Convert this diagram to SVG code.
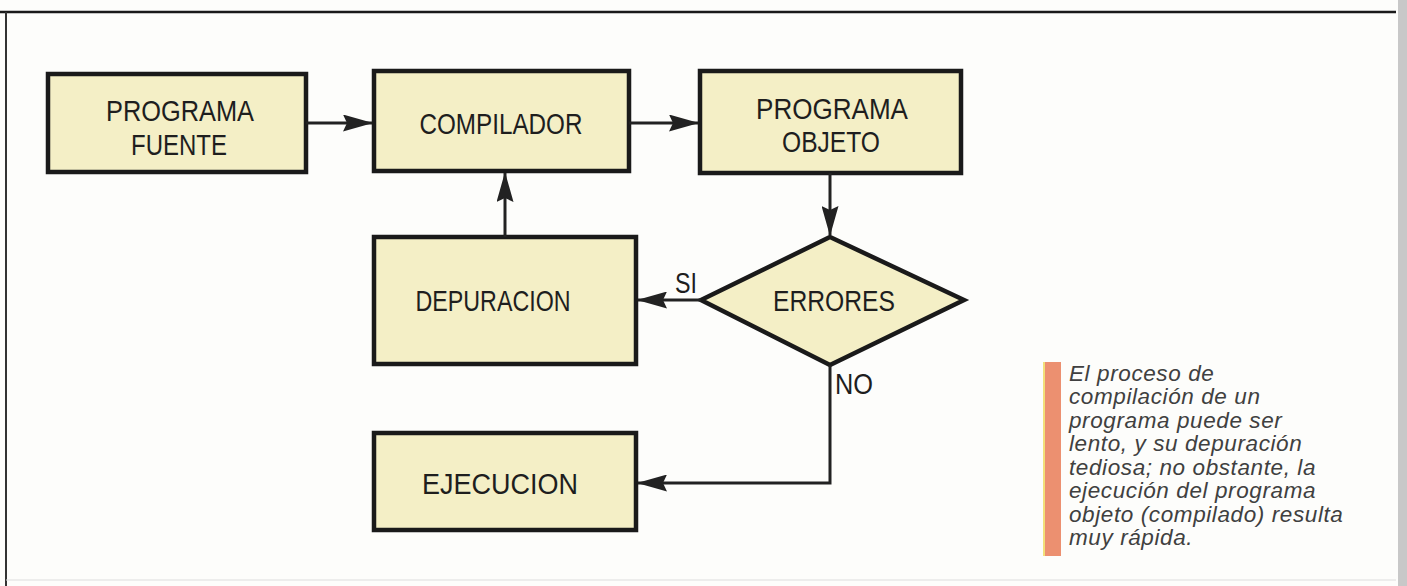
<svg xmlns="http://www.w3.org/2000/svg" width="1407" height="586" viewBox="0 0 1407 586">
<defs>
<marker id="arr" markerWidth="30" markerHeight="17" refX="29" refY="8.5" orient="auto" markerUnits="userSpaceOnUse">
<path d="M0,0 L30,8.5 L0,17 L4,8.5 Z" fill="#222"/>
</marker>
<style>
.box{fill:#f4efc6;stroke:#1a1a1a;stroke-width:4.5}
.lbl{font-family:"Liberation Sans",Arial,sans-serif;font-size:29px;fill:#1e1e1e;text-anchor:middle}
.edge{fill:none;stroke:#222;stroke-width:3}
.cap{font-family:"Liberation Sans",Arial,sans-serif;font-style:italic;font-size:22.5px;letter-spacing:0.6px;fill:#404040}
</style>
</defs>
<rect x="0" y="0" width="1407" height="586" fill="#fdfdfb"/>
<g id="frame">
<line x1="0" y1="12" x2="1396" y2="12" stroke="#1a1a1a" stroke-width="2.5"/>
<line x1="6" y1="12" x2="6" y2="586" stroke="#333" stroke-width="2"/>
<line x1="6" y1="580" x2="1396" y2="580" stroke="#ddd" stroke-width="1"/>
<rect x="1398" y="0" width="9" height="586" fill="#c8c8c8"/>
</g>
<g id="fuente">
<rect class="box" x="48" y="74" width="258" height="98"/>
<text class="lbl" x="180" y="121" textLength="148" lengthAdjust="spacingAndGlyphs">PROGRAMA</text>
<text class="lbl" x="179" y="155" textLength="96" lengthAdjust="spacingAndGlyphs">FUENTE</text>
</g>
<g id="compilador">
<rect class="box" x="374" y="71" width="255" height="100"/>
<text class="lbl" x="501" y="134" textLength="163" lengthAdjust="spacingAndGlyphs">COMPILADOR</text>
</g>
<g id="objeto">
<rect class="box" x="700" y="71" width="261" height="102"/>
<text class="lbl" x="832" y="119" textLength="152" lengthAdjust="spacingAndGlyphs">PROGRAMA</text>
<text class="lbl" x="831" y="152" textLength="98" lengthAdjust="spacingAndGlyphs">OBJETO</text>
</g>
<g id="errores">
<polygon points="830,237 964,300 830,365 701,300" fill="#f4efc6" stroke="#1a1a1a" stroke-width="4.5" stroke-linejoin="miter"/>
<text class="lbl" x="834" y="311" textLength="122" lengthAdjust="spacingAndGlyphs">ERRORES</text>
</g>
<g id="depuracion">
<rect class="box" x="374" y="237" width="262" height="127"/>
<text class="lbl" x="493" y="311" textLength="155" lengthAdjust="spacingAndGlyphs">DEPURACION</text>
</g>
<g id="ejecucion">
<rect class="box" x="374" y="433" width="262" height="97"/>
<text class="lbl" x="500" y="494" textLength="156" lengthAdjust="spacingAndGlyphs">EJECUCION</text>
</g>
<g id="connectors">
<line class="edge" x1="306" y1="123" x2="372" y2="123" marker-end="url(#arr)"/>
<line class="edge" x1="629" y1="123" x2="698" y2="123" marker-end="url(#arr)"/>
<line class="edge" x1="830" y1="173" x2="830" y2="235" marker-end="url(#arr)"/>
<line class="edge" x1="505" y1="237" x2="505" y2="173" marker-end="url(#arr)"/>
<line class="edge" x1="701" y1="300" x2="638" y2="300" marker-end="url(#arr)"/>
<polyline class="edge" points="830,365 830,483 638,483" marker-end="url(#arr)"/>
<text class="lbl" x="686" y="293" textLength="22" lengthAdjust="spacingAndGlyphs">SI</text>
<text class="lbl" x="854" y="394" textLength="38" lengthAdjust="spacingAndGlyphs">NO</text>
</g>
<g id="caption">
<rect x="1043" y="362" width="18" height="194" fill="#ec9070"/>
<rect x="1043" y="362" width="2" height="194" fill="#f2e07a"/>
<text class="cap" x="1069" y="381">El proceso de</text>
<text class="cap" x="1069" y="404">compilación de un</text>
<text class="cap" x="1069" y="428">programa puede ser</text>
<text class="cap" x="1069" y="451">lento, y su depuración</text>
<text class="cap" x="1069" y="475">tediosa; no obstante, la</text>
<text class="cap" x="1069" y="498">ejecución del programa</text>
<text class="cap" x="1069" y="522">objeto (compilado) resulta</text>
<text class="cap" x="1069" y="545">muy rápida.</text>
</g>
</svg>
